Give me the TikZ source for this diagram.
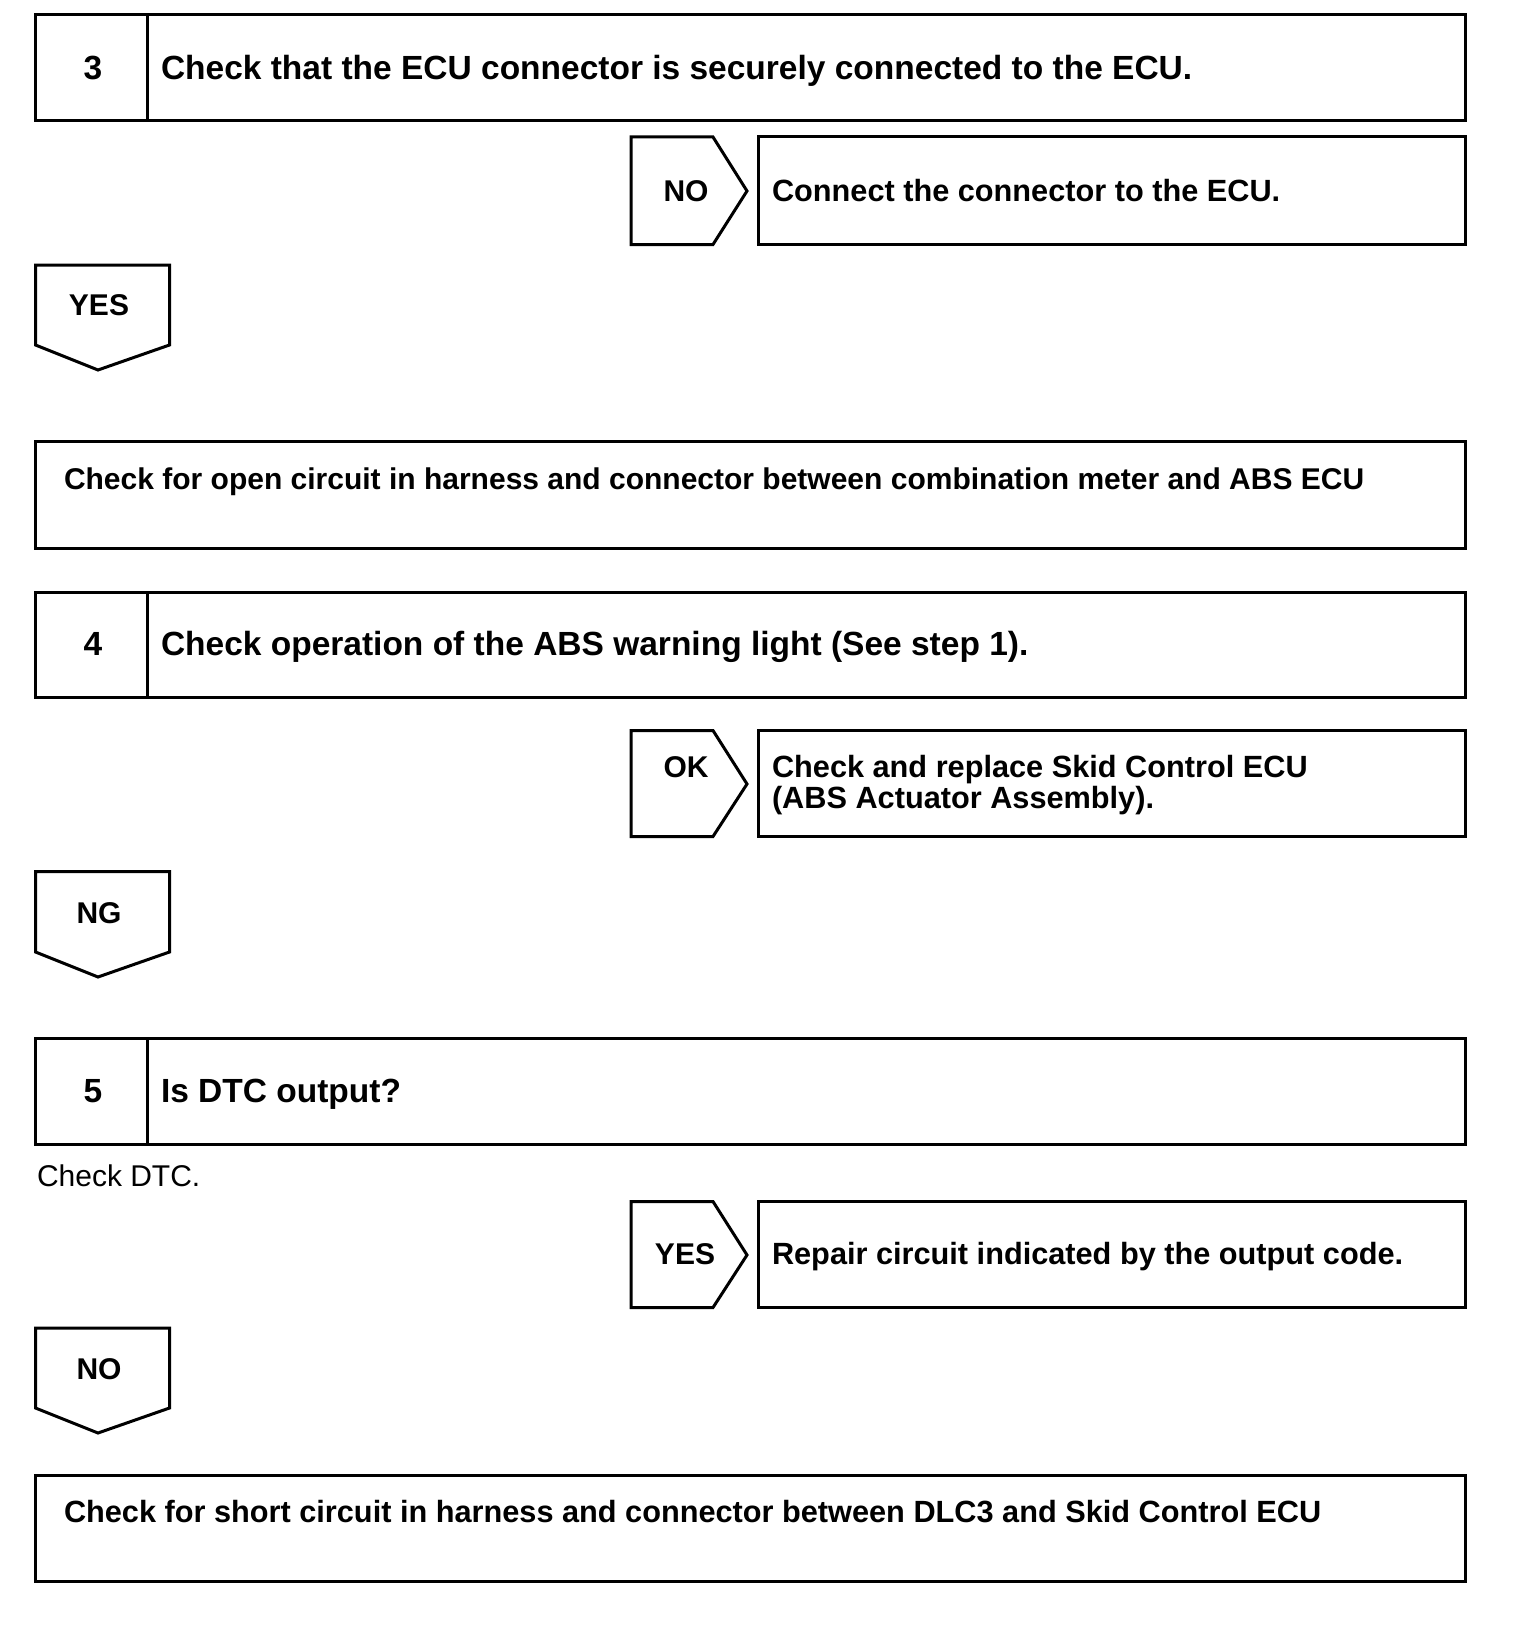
\documentclass[tikz,border=0pt]{standalone}
\usepackage{fontspec}
\setmainfont{Liberation Sans}
\tikzset{
  frame/.style={draw=black, line width=3pt, inner sep=0pt, outer sep=0pt, anchor=north west},
  edge/.style={draw=black, line width=3pt, line join=miter},
  ttl/.style={font=\bfseries\fontsize{33.5}{40}\selectfont, inner sep=0pt, outer sep=0pt},
  txt/.style={font=\bfseries\fontsize{30.7}{36}\selectfont, inner sep=0pt, outer sep=0pt, anchor=base west},
  plain/.style={font=\fontsize{30}{36}\selectfont, inner sep=0pt, outer sep=0pt, anchor=base west},
  lbl/.style={font=\bfseries\fontsize{30}{36}\selectfont, inner sep=0pt, outer sep=0pt, anchor=base},
}
\begin{document}
\begin{tikzpicture}[x=1pt, y=-1pt]
\useasboundingbox[fill=white] (0,0) rectangle (1520,1640);

% ---------- Step 3 ----------
\node[frame, minimum width=1429.5pt, minimum height=106pt] (s3) at (35.5,15) {};
\draw[edge] (147,15) -- (147,121);
\node[ttl, anchor=base] (n3) at (93,80) {3};
\node[ttl, anchor=base west] (t3) at (161,80) {Check that the ECU connector is securely connected to the ECU.};

% NO -> connect
\draw[edge] (631,137) -- (713,137) -- (747,191) -- (713,244.5) -- (631,244.5) -- cycle;
\node[lbl] (no1) at (686,201) {NO};
\node[frame, minimum width=706.5pt, minimum height=107.5pt] (b1) at (758.5,137) {};
\node[txt] (a1) at (772,201) {Connect the connector to the ECU.};

% YES down
\draw[edge] (35.5,265) -- (169.5,265) -- (169.5,345) -- (98,370) -- (35.5,345) -- cycle;
\node[lbl] (yes1) at (99,315) {YES};

% open circuit box
\node[frame, minimum width=1429.5pt, minimum height=107pt] (b2) at (35.5,441.5) {};
\node[txt, font=\bfseries\fontsize{30}{36}\selectfont] (a2) at (64,489) {Check for open circuit in harness and connector between combination meter and ABS ECU};

% ---------- Step 4 ----------
\node[frame, minimum width=1429.5pt, minimum height=105pt] (s4) at (35.5,592) {};
\draw[edge] (147,592) -- (147,697);
\node[ttl, anchor=base] (n4) at (93,655) {4};
\node[ttl, anchor=base west] (t4) at (161,655) {Check operation of the ABS warning light (See step 1).};

% OK -> replace
\draw[edge] (631,730.5) -- (713,730.5) -- (747,784) -- (713,836.5) -- (631,836.5) -- cycle;
\node[lbl] (ok) at (686,777) {OK};
\node[frame, minimum width=706.5pt, minimum height=106pt] (b3) at (758.5,730.5) {};
\node[txt] (a3) at (772,777) {Check and replace Skid Control ECU};
\node[txt] (a3b) at (772,808) {(ABS Actuator Assembly).};

% NG down
\draw[edge] (35.5,871.5) -- (169.5,871.5) -- (169.5,952) -- (98,977) -- (35.5,952) -- cycle;
\node[lbl] (ng) at (99,923) {NG};

% ---------- Step 5 ----------
\node[frame, minimum width=1429.5pt, minimum height=106pt] (s5) at (35.5,1038.5) {};
\draw[edge] (147,1038.5) -- (147,1144.5);
\node[ttl, anchor=base] (n5) at (93,1102) {5};
\node[ttl, anchor=base west] (t5) at (161,1102) {Is DTC output?};
\node[plain] (cd) at (37,1186) {Check DTC.};

% YES -> repair
\draw[edge] (631,1201.5) -- (713,1201.5) -- (747,1255) -- (713,1307.5) -- (631,1307.5) -- cycle;
\node[lbl] (yes2) at (685,1264) {YES};
\node[frame, minimum width=706.5pt, minimum height=106pt] (b4) at (758.5,1201.5) {};
\node[txt] (a4) at (772,1264) {Repair circuit indicated by the output code.};

% NO down
\draw[edge] (35.5,1328) -- (169.5,1328) -- (169.5,1408) -- (98,1433) -- (35.5,1408) -- cycle;
\node[lbl] (no2) at (99,1379) {NO};

% short circuit box
\node[frame, minimum width=1429.5pt, minimum height=106pt] (b5) at (35.5,1475.5) {};
\node[txt] (a5) at (64,1522) {Check for short circuit in harness and connector between DLC3 and Skid Control ECU};
\end{tikzpicture}
\end{document}
